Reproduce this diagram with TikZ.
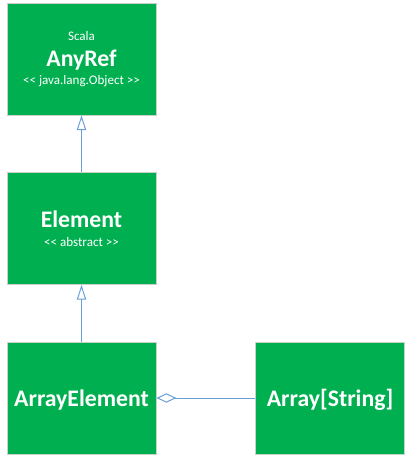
\documentclass[tikz,border=0pt]{standalone}
\usepackage{fontspec}
\setmainfont{Carlito}
\usetikzlibrary{arrows.meta}
\definecolor{boxgreen}{HTML}{00B050}
\definecolor{boxedge}{HTML}{C8D0C8}
\definecolor{linkblue}{HTML}{6A9FD8}
\begin{document}
\begin{tikzpicture}[x=0.75pt,y=-0.75pt,
  classbox/.style={draw=boxedge,line width=0.6pt,fill=boxgreen,minimum width=111.75pt,minimum height=84pt,inner sep=0pt},
  bigname/.style={text=white,font=\fontsize{17.8}{20}\selectfont\bfseries,anchor=base,inner sep=0pt},
  smalltxt/.style={text=white,font=\fontsize{9.8}{12}\selectfont,anchor=base,inner sep=0pt},
  link/.style={draw=linkblue,line width=0.75pt}]
\useasboundingbox (0,0) rectangle (411,463);
\fill[white] (0,0) rectangle (411,463);
\node[classbox] (anyref) at (81.5,59) {};
\node[classbox] (element) at (81.5,228.5) {};
\node[classbox] (arrayel) at (81.5,398) {};
\node[classbox] (arrstr) at (330,398) {};
\node[smalltxt] (tscala) at (81.5,41) {Scala};
\node[bigname] (tanyref) at (81.5,67) {AnyRef};
\node[smalltxt] (tjava) at (81.5,85) {<{}< java.lang.Object >{}>};
\node[bigname] (telement) at (81.5,227.7) {Element};
\node[smalltxt] (tabs) at (81.5,246.5) {<{}< abstract >{}>};
\node[bigname] (tarrayel) at (81.5,406) {ArrayElement};
\node[bigname] (tarrstr) at (330,406) {Array[String]};
\draw[link,-{Triangle[open,length=11pt,width=7pt]}] (element.north) -- (anyref.south);
\draw[link,-{Triangle[open,length=11pt,width=7pt]}] (arrayel.north) -- (element.south);
\draw[link,-{Diamond[open,length=15pt,width=7pt]}] (arrstr.west) -- (arrayel.east);
\end{tikzpicture}
\end{document}
